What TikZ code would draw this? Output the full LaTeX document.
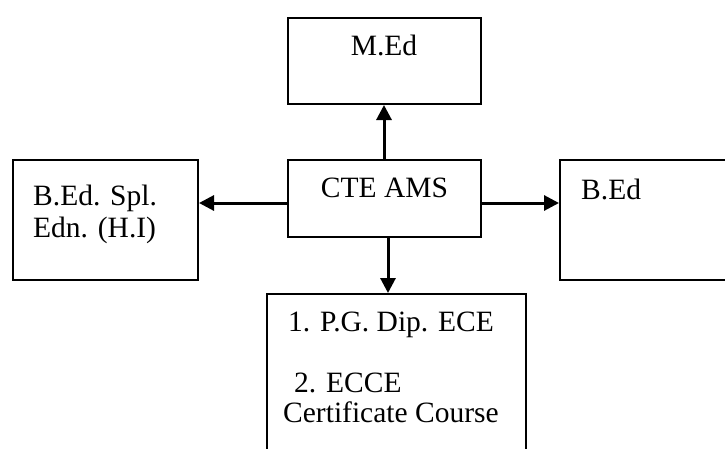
\documentclass[tikz,border=0pt]{standalone}
\usepackage{fontspec}
\setmainfont{Liberation Serif}
\usetikzlibrary{arrows.meta}
\begin{document}
\begin{tikzpicture}[x=1pt,y=-1pt,
  box/.style={draw,line width=2pt,inner sep=0pt,anchor=north west},
  lbl/.style={inner sep=0pt,anchor=base west,font=\fontsize{29.5}{34}\selectfont},
  arr/.style={line width=3pt,-{Triangle[length=15pt,width=15pt]}}]
\useasboundingbox (0,0) rectangle (725,448);
\clip (0,0) rectangle (725,448);
\node[box,minimum width=193pt,minimum height=86pt] (med) at (287,17) {};
\node[box,minimum width=193pt,minimum height=77pt] (cte) at (287,159) {};
\node[box,minimum width=185pt,minimum height=120pt] (lb) at (12,159) {};
\node[box,minimum width=190pt,minimum height=120pt] (rb) at (559,159) {};
\node[box,minimum width=259pt,minimum height=170pt] (bot) at (266,293) {};
\node[lbl,anchor=base] (tmed) at (384,55) {M.Ed};
\node[lbl,anchor=base] (tcte) at (384.5,197) {CTE AMS};
\node[lbl] (tl1) at (33,205) {B.Ed. Spl.};
\node[lbl] (tl2) at (33,237) {Edn. (H.I)};
\node[lbl] (trb) at (581,199) {B.Ed};
\node[lbl] (tb1) at (288,331) {1. P.G. Dip. ECE};
\node[lbl] (tb2) at (294,392) {2. ECCE};
\node[lbl] (tb3) at (283,422) {Certificate Course};
\draw[arr] (cte.north -| 384,0) -- (med.south -| 384,0);
\draw[arr] (cte.west |- 0,203) -- (lb.east |- 0,203);
\draw[arr] (cte.east |- 0,203) -- (rb.west |- 0,203);
\draw[arr] (cte.south -| 388,0) -- (bot.north -| 388,0);
\end{tikzpicture}
\end{document}
